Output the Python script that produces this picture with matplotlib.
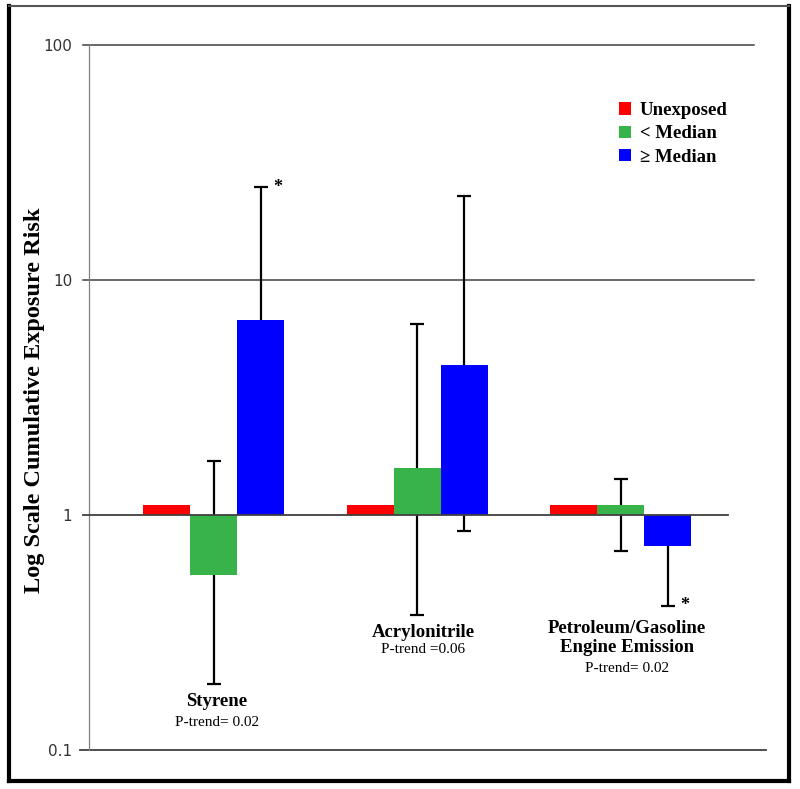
import matplotlib
matplotlib.use("Agg")
import matplotlib.pyplot as plt
import numpy as np
from matplotlib.lines import Line2D
from matplotlib.ticker import FixedLocator, NullLocator, FixedFormatter
import matplotlib.transforms as mtransforms

# ---- data ----
categories = ["Styrene", "Acrylonitrile", "Petroleum/Gasoline\nEngine Emission"]
p_trends = ["P-trend= 0.02", "P-trend =0.06", "P-trend= 0.02"]
series = ["Unexposed", "< Median", "\u2265 Median"]
unexposed = [1.1, 1.1, 1.1]
below_median = [0.557, 1.58, 1.1]
above_median = [6.75, 4.35, 0.74]
below_lo = [0.19, 0.377, 0.70]
below_hi = [1.69, 6.5, 1.42]
above_lo = [1.8, 0.855, 0.41]
above_hi = [24.8, 22.7, 0.98]
significant = [True, False, True]
yticks = [0.1, 1, 10, 100]
ytick_labels = ["0.1", "1", "10", "100"]

colors = ["#FF0000", "#37B34A", "#0000FF"]

W, H = 800, 789
fig = plt.figure(figsize=(W / 100, H / 100), dpi=100)
ax_l, ax_r, ax_t, ax_b = 89, 754, 45, 750
ax = fig.add_axes([ax_l / W, 1 - ax_b / H, (ax_r - ax_l) / W, (ax_b - ax_t) / H])

x = np.arange(len(categories))
bw = 0.231
offsets = [-bw, 0, bw]

ax.set_yscale("log")
ax.set_ylim(0.1, 100)
ax.set_xlim(-0.614, 2.654)

vals = [unexposed, below_median, above_median]
bars = []
for i, (v, c) in enumerate(zip(vals, colors)):
    v = np.array(v)
    b = ax.bar(x + offsets[i], v - 1, bottom=1, width=bw, color=c,
               edgecolor="none", zorder=3, label=series[i])
    bars.append(b)

# error bars (behind bars)
for xs, v, lo, hi in [(x + offsets[1], below_median, below_lo, below_hi),
                      (x + offsets[2], above_median, above_lo, above_hi)]:
    v = np.array(v); lo = np.array(lo); hi = np.array(hi)
    ax.errorbar(xs, v, yerr=[v - lo, hi - v], fmt="none", ecolor="black",
                elinewidth=1.6, capsize=5, capthick=1.6, zorder=2)

# significance asterisks
for i, sig in enumerate(significant):
    if sig:
        yv = above_hi[i] if above_median[i] > 1 else above_lo[i]
        ax.text(x[i] + offsets[2] + 0.06, yv, "*", ha="left", va="center",
                fontsize=13, fontweight="bold", family="Liberation Serif", zorder=5)

# reference line at 1
ax.axhline(1, xmin=-0.009, xmax=(728 - ax_l) / (ax_r - ax_l), color="#404040",
           lw=1.3, zorder=4, clip_on=False)
# gridlines at 10, 100
for g in [10, 100]:
    ax.axhline(g, xmin=-0.009, xmax=1, color="#404040", lw=1.1, zorder=1, clip_on=False)
# bottom line at 0.1
ax.add_line(Line2D([-0.013, (766 - ax_l) / (ax_r - ax_l)], [0, 0],
                   transform=ax.transAxes, color="#404040", lw=1.3, clip_on=False))

for s in ["top", "right", "bottom"]:
    ax.spines[s].set_visible(False)
ax.spines["left"].set_color("#808080")
ax.spines["left"].set_linewidth(0.9)

ax.yaxis.set_major_locator(FixedLocator(yticks))
ax.yaxis.set_major_formatter(FixedFormatter(ytick_labels))
ax.yaxis.set_minor_locator(NullLocator())
ax.tick_params(axis="y", length=0, pad=12, labelsize=11, labelcolor="#333333")
ax.set_xticks([])

# category labels
trans = mtransforms.blended_transform_factory(ax.transData, ax.transAxes)
cat_y = [0.0695, 0.167, 0.159]
p_y = [0.0397, 0.142, 0.116]
cat_dx = [0.015, 0.03, 0.03]
for i in range(len(categories)):
    ax.text(x[i] + cat_dx[i], cat_y[i], categories[i], transform=trans, ha="center",
            va="center", fontsize=13.5, fontweight="bold", family="Liberation Serif",
            linespacing=1.12)
    ax.text(x[i] + cat_dx[i], p_y[i], p_trends[i], transform=trans, ha="center",
            va="center", fontsize=11, family="Liberation Serif")

# legend
leg = ax.legend(handles=bars, labels=series, loc="upper left",
                bbox_to_anchor=((619 - ax_l) / (ax_r - ax_l), (ax_b - 102) / (ax_b - ax_t)),
                frameon=False, borderpad=0, borderaxespad=0, handlelength=0.65,
                handleheight=0.65, handletextpad=0.45, labelspacing=0.34,
                prop={"family": "Liberation Serif", "weight": "bold", "size": 13.5})

# y label
fig.text(35 / W, 1 - 400 / H, "Log Scale Cumulative Exposure Risk", rotation=90,
         ha="center", va="center", fontsize=17.5, fontweight="bold",
         family="Liberation Serif")

# outer border
def fl(x0, y0, x1, y1, lw, c):
    fig.add_artist(Line2D([x0 / W, x1 / W], [1 - y0 / H, 1 - y1 / H], lw=lw, color=c,
                          transform=fig.transFigure, solid_capstyle="projecting"))
fl(9, 6, 9, 781, 3, "black")
fl(9, 781, 789, 781, 3, "black")
fl(789, 6, 789, 781, 3, "black")
fl(9, 6, 789, 6, 1.5, "#555555")

fig.savefig("out.png", dpi=100)
